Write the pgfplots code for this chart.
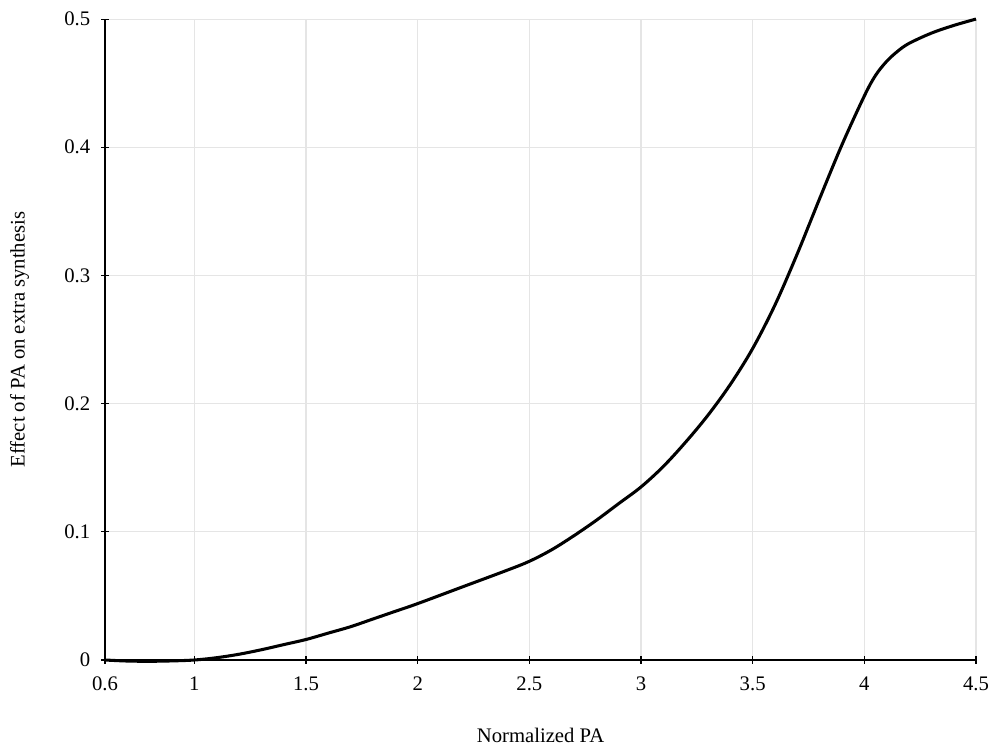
\documentclass[border=0pt]{standalone}
\usepackage{fontspec}
\setmainfont{Liberation Serif}
\usepackage{pgfplots}
\pgfplotsset{compat=1.18}
\begin{document}
\fontsize{11.5}{13.5}\selectfont
\begin{tikzpicture}
\path[use as bounding box] (-58.4pt,-49.5pt) rectangle (493.2pt,367pt);
\begin{axis}[
  scale only axis,
  width=484.3pt, height=356.4pt,
  at={(0,0)}, anchor=south west,
  xmin=0.6, xmax=4.5, ymin=0, ymax=0.5,
  axis lines=left,
  axis line style={-, line width=0.6pt},
  xtick={0.6,1,1.5,2,2.5,3,3.5,4,4.5},
  xticklabels={0.6,1,1.5,2,2.5,3,3.5,4,4.5},
  ytick={0,0.1,0.2,0.3,0.4,0.5},
  yticklabels={0,0.1,0.2,0.3,0.4,0.5},
  tick align=center,
  major tick length=4.4pt,
  tick style={black, line width=0.6pt},
  grid=major,
  major grid style={line width=0.6pt, color=black!10},
  /pgf/number format/assume math mode=true,
  xlabel={Normalized PA},
  ylabel={Effect of PA on extra synthesis},
  xlabel style={at={(axis description cs:0.5,0)}, anchor=center, yshift=-41.7pt},
  ylabel style={at={(axis description cs:0,0.5)}, anchor=center, yshift=47.5pt},
  xticklabel style={yshift=-3pt},
  yticklabel style={xshift=-2pt},
  clip=false,
]
\addplot[black, line width=1.7pt, smooth, tension=0.55] coordinates {
(0.6,0) (0.7,-0.0008) (0.8,-0.001) (0.9,-0.0007) (1.0,0)
(1.1,0.0018) (1.2,0.0045) (1.3,0.008) (1.4,0.012) (1.5,0.016)
(1.6,0.021) (1.7,0.026) (1.8,0.032) (1.9,0.038) (2.0,0.044)
(2.2,0.057) (2.4,0.070) (2.5,0.077) (2.6,0.086) (2.7,0.097)
(2.8,0.109) (2.9,0.122) (3.0,0.135) (3.1,0.151) (3.2,0.170)
(3.3,0.191) (3.4,0.215) (3.5,0.243) (3.6,0.277) (3.7,0.317)
(3.8,0.360) (3.9,0.402) (4.0,0.440) (4.05,0.456) (4.1,0.467)
(4.15,0.475) (4.2,0.481) (4.3,0.489) (4.4,0.495) (4.5,0.5)
};
\end{axis}
\end{tikzpicture}
\end{document}
